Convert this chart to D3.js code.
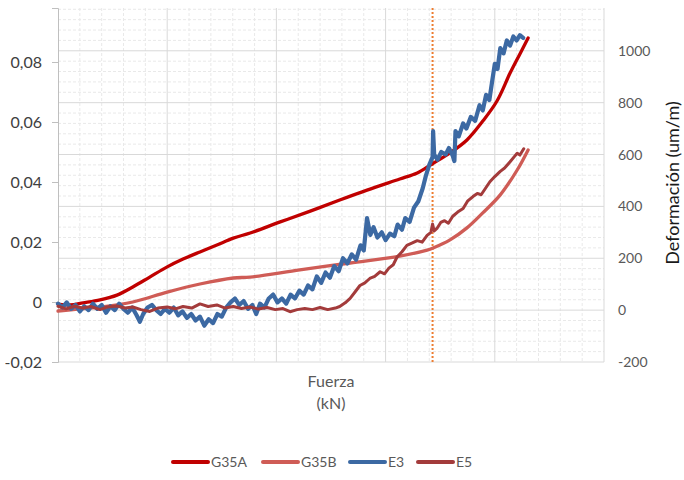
<!DOCTYPE html>
<html>
<head>
<meta charset="utf-8">
<script src="https://cdn.jsdelivr.net/npm/d3@7"></script>
<style>
  html, body { margin: 0; padding: 0; background: #fff; }
  svg { display: block; font-family: Lato, "Open Sans", sans-serif; }
</style>
</head>
<body>
<svg id="chart" width="684" height="480"></svg>
<script>
// Load (kN) on x; G35A / G35B on the left axis, E3 / E5 strain (um/m) on the right axis.
const seriesNames = ["G35A", "G35B", "E3", "E5"];
const seriesColors = ["#C00000", "#CF5C56", "#3C69A3", "#A33B3B"];

const leftTicks = [-0.02, 0, 0.02, 0.04, 0.06, 0.08];
const rightTicks = [-200, 0, 200, 400, 600, 800, 1000];
const markerX = 68.6;

const g35a = [[0,-0.0007],[2.2,-0.001],[4.6,-0.0003],[7.7,0.0007],[10.8,0.0023],[13.7,0.005],
  [16.8,0.0083],[20,0.0117],[22.9,0.0143],[26,0.0167],[29.1,0.019],[32.1,0.0213],[35.2,0.023],
  [40.7,0.0267],[46.2,0.0303],[51.6,0.034],[56.6,0.0373],[62.6,0.041],[65.8,0.043],[68.5,0.046],
  [71.8,0.0497],[74.9,0.054],[77.8,0.0603],[80.4,0.067],[82.8,0.0763],[84.6,0.0827],[86.1,0.088]];

const g35b = [[0,-0.003],[4,-0.0023],[7.7,-0.0017],[13.7,0],[20,0.0033],[26,0.006],[32.1,0.008],
  [35.2,0.0083],[44.3,0.0107],[53.5,0.013],[62.6,0.0153],[67.6,0.0173],[68.7,0.018],[71.8,0.0207],
  [74.9,0.0247],[77.8,0.0297],[81,0.0357],[84.1,0.044],[86.1,0.0507]];

const e3 = [[0,25],[0.8,10],[1.6,30],[2.4,5],[3.2,20],[4,-5],[4.8,15],[5.6,0],[6.4,25],[7.2,5],
  [8,20],[8.8,-10],[9.6,15],[10.4,0],[11.2,25],[12,5],[12.8,-10],[13.6,10],[14.4,-20],[15,-45],
  [15.6,-15],[16.4,10],[17.2,20],[18,0],[18.8,-15],[19.6,5],[20.4,-10],[21.2,10],[22,-20],[22.8,-5],
  [23.6,-30],[24.4,-15],[25.2,-40],[26,-25],[26.8,-60],[27.6,-35],[28.4,-50],[29.2,-15],[30,-25],
  [30.8,10],[31.6,30],[32.4,45],[33.2,20],[34,35],[34.8,5],[35.6,20],[36.3,-15],[37,25],[37.8,10],
  [38.6,45],[39.4,60],[40.2,30],[41,45],[41.8,25],[42.6,60],[43.4,45],[44.2,75],[45,60],[45.8,95],
  [46.6,80],[47.4,130],[48.2,105],[49,145],[49.8,125],[50.6,170],[51.4,150],[52.2,200],[53,180],
  [53.8,215],[54.6,195],[55.4,250],[56,230],[56.6,355],[57.2,290],[57.8,320],[58.5,280],[59.3,300],
  [60,270],[60.8,295],[61.6,285],[62.2,330],[63,310],[63.6,355],[64.4,340],[65.2,395],[66,420],
  [66.8,470],[67.4,520],[68,560],[68.6,590],[68.7,690],[68.9,600],[69.5,580],[70.2,610],[71,600],
  [71.6,625],[72.3,595],[72.6,575],[72.8,690],[73.4,670],[74.2,720],[74.8,700],[75.6,745],[76.4,730],
  [77.2,790],[77.8,770],[78.4,830],[79,810],[79.5,880],[80,950],[80.5,930],[81,1010],[81.6,990],
  [82.2,1040],[82.8,1020],[83.4,1055],[84,1040],[84.6,1060],[85.2,1050]];

const e5 = [[0,15],[1.5,5],[3,15],[4.5,8],[6,14],[7.7,2],[9,12],[10.8,16],[12.3,8],[13.7,12],
  [15.2,2],[16.8,-5],[18.3,8],[20,12],[21.5,5],[22.9,14],[24.5,8],[26,24],[27.5,14],[29.1,20],
  [30.6,8],[32.1,14],[33.6,6],[35.2,12],[36.7,4],[38.3,10],[39.8,2],[41.2,6],[42.5,-6],[43.8,2],
  [45.2,6],[46.6,2],[48,10],[49.4,2],[50.8,8],[51.6,14],[52.6,28],[53.5,45],[54.4,70],[55.3,95],
  [56.2,105],[57.1,122],[58,130],[59,148],[59.8,140],[60.6,162],[61.4,175],[62.1,205],[63,225],
  [63.9,250],[64.8,258],[65.8,268],[66.7,262],[67.6,288],[68.3,300],[68.6,332],[68.9,305],
  [69.4,315],[70.1,338],[70.8,345],[71.5,335],[72.3,362],[73.2,378],[74.2,392],[75,420],[76,438],
  [76.8,450],[77.5,445],[78.3,470],[79.1,495],[80,515],[81,535],[81.8,548],[82.8,572],[83.5,590],
  [84.1,605],[84.6,598],[85.3,622]];

const svg = d3.select("#chart");
const x = d3.scaleLinear().domain([0, 100]).range([58, 604]);
const yL = d3.scaleLinear().domain([-0.02, 0.098]).range([362, 8]);
const yR = d3.scaleLinear().domain([-200, 1165]).range([362, 8]);

// grid
const grid = svg.append("g");
const minorY = d3.range(-200, 1165, 40).filter(v => v % 200 !== 0);
const minorX = d3.range(0, 100, 4).filter(v => v % 20 !== 0);
grid.selectAll(".mx").data(minorX).join("line")
  .attr("x1", d => x(d)).attr("x2", d => x(d)).attr("y1", 8).attr("y2", 362)
  .attr("stroke", "#E9E9E9").attr("stroke-dasharray", "3,2");
grid.selectAll(".my").data(minorY).join("line")
  .attr("x1", 58).attr("x2", 604).attr("y1", d => yR(d)).attr("y2", d => yR(d))
  .attr("stroke", "#E9E9E9").attr("stroke-dasharray", "3,2");
grid.selectAll(".Mx").data(d3.range(20, 101, 20)).join("line")
  .attr("x1", d => x(d)).attr("x2", d => x(d)).attr("y1", 8).attr("y2", 362)
  .attr("stroke", "#D9D9D9");
grid.selectAll(".My").data(rightTicks).join("line")
  .attr("x1", 58).attr("x2", 604).attr("y1", d => yR(d)).attr("y2", d => yR(d))
  .attr("stroke", "#D9D9D9");

// left axis
const fmtL = d => d === 0 ? "0" : (d < 0 ? "-" : "") + d3.format(".2f")(Math.abs(d)).replace(".", ",");
const axL = svg.append("g").attr("transform", "translate(58,0)")
  .call(d3.axisLeft(yL).tickValues(leftTicks).tickFormat(fmtL).tickSize(6).tickPadding(10));
axL.select(".domain").attr("stroke", "#BFBFBF");
axL.selectAll(".tick line").attr("stroke", "#BFBFBF");
axL.selectAll("text").attr("font-size", 16).attr("fill", "#404040").attr("font-family", "Lato, sans-serif");

// right axis
const axR = svg.append("g").attr("transform", "translate(604,0)")
  .call(d3.axisRight(yR).tickValues(rightTicks).tickFormat(d => d < 0 ? "-" + Math.abs(d) : String(d)).tickSize(0).tickPadding(14));
axR.select(".domain").remove();
axR.selectAll("text").attr("font-size", 14).attr("fill", "#595959").attr("font-family", "Lato, sans-serif");

// marker line
svg.append("line")
  .attr("x1", x(markerX)).attr("x2", x(markerX)).attr("y1", 8).attr("y2", 362)
  .attr("stroke", "#ED7D31").attr("stroke-width", 2).attr("stroke-dasharray", "2,2");

// series
const smoothL = d3.line().x(d => x(d[0])).y(d => yL(d[1])).curve(d3.curveCatmullRom);
const rough = d3.line().x(d => x(d[0])).y(d => yR(d[1]));
const paths = [
  { d: smoothL(g35a), c: seriesColors[0], w: 3.3 },
  { d: smoothL(g35b), c: seriesColors[1], w: 3.3 },
  { d: rough(e3), c: seriesColors[2], w: 4.2 },
  { d: rough(e5), c: seriesColors[3], w: 3 }
];
svg.append("g").selectAll("path").data(paths).join("path")
  .attr("d", p => p.d).attr("fill", "none").attr("stroke", p => p.c)
  .attr("stroke-width", p => p.w).attr("stroke-linejoin", "round").attr("stroke-linecap", "round");

// axis titles
const xt = svg.append("text").attr("x", 331).attr("text-anchor", "middle")
  .attr("font-size", 16).attr("fill", "#595959");
xt.append("tspan").attr("x", 331).attr("y", 387).text("Fuerza");
xt.append("tspan").attr("x", 331).attr("y", 409).text("(kN)");

svg.append("text").attr("transform", "translate(679,183) rotate(-90)")
  .attr("text-anchor", "middle").attr("font-size", 18).attr("fill", "#1a1a1a")
  .text("Deformación (um/m)");

// legend
const legX = [173, 263, 350, 418];
const leg = svg.append("g").selectAll("g").data(seriesNames).join("g")
  .attr("transform", (d, i) => `translate(${legX[i]},462)`);
leg.append("line").attr("x1", 0).attr("x2", 35).attr("y1", 0).attr("y2", 0)
  .attr("stroke", (d, i) => seriesColors[i]).attr("stroke-width", 4).attr("stroke-linecap", "round");
leg.append("text").attr("x", 38).attr("y", 5).attr("font-size", 14).attr("fill", "#595959").text(d => d);
</script>
</body>
</html>
